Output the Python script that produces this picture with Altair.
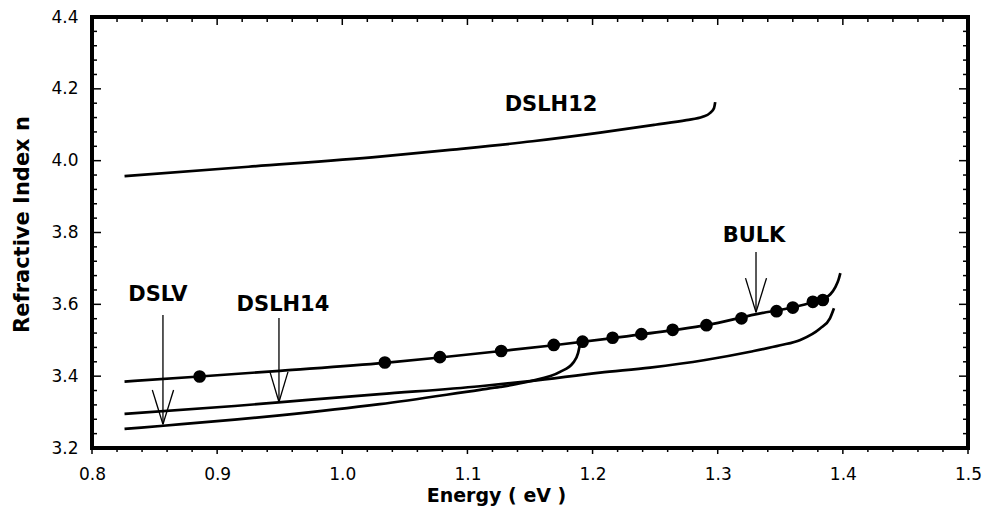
import altair as alt
import pandas as pd

# ---- curves: photon energy (eV) vs refractive index n ----
dslh12_e = [0.826, 0.925, 1.030, 1.086, 1.152, 1.206, 1.250, 1.275, 1.288, 1.294, 1.297, 1.298]
dslh12_n = [3.957, 3.983, 4.011, 4.030, 4.054, 4.078, 4.100, 4.113, 4.122, 4.133, 4.146, 4.163]

bulk_e = [0.826, 0.886, 0.950, 1.034, 1.078, 1.127, 1.169, 1.216, 1.264, 1.291, 1.330, 1.360, 1.376, 1.385, 1.390, 1.394, 1.3965, 1.398]
bulk_n = [3.385, 3.399, 3.415, 3.437, 3.452, 3.470, 3.486, 3.506, 3.528, 3.542, 3.572, 3.592, 3.606, 3.616, 3.628, 3.648, 3.668, 3.687]

dslh14_e = [0.826, 0.914, 0.949, 1.030, 1.110, 1.150, 1.206, 1.246, 1.290, 1.326, 1.350, 1.366, 1.3818, 1.3897, 1.3929]
dslh14_n = [3.295, 3.317, 3.327, 3.350, 3.372, 3.386, 3.410, 3.424, 3.445, 3.468, 3.486, 3.501, 3.533, 3.561, 3.589]

dslv_e = [0.826, 0.857, 0.914, 0.950, 1.030, 1.110, 1.126, 1.150, 1.174, 1.1844, 1.1884, 1.190]
dslv_n = [3.253, 3.262, 3.279, 3.291, 3.322, 3.362, 3.370, 3.386, 3.412, 3.437, 3.464, 3.490]

# measured bulk points (filled circles)
dots_e = [0.886, 1.034, 1.078, 1.127, 1.169, 1.192, 1.216, 1.239, 1.264, 1.291, 1.319, 1.347, 1.360, 1.376, 1.384]
dots_n = [3.399, 3.438, 3.453, 3.470, 3.487, 3.496, 3.507, 3.517, 3.529, 3.542, 3.561, 3.581, 3.591, 3.607, 3.612]

# ---- annotations ----
label_text = ["DSLH12", "DSLV", "DSLH14", "BULK"]
label_e = [1.1668, 0.8527, 0.9526, 1.329]
label_n = [4.155, 3.626, 3.598, 3.790]

arrow_e = [0.8567, 0.9494, 1.3306]      # where each arrow points
arrow_tip = [3.266, 3.328, 3.578]
arrow_top = [3.570, 3.562, 3.746]
arrow_head = [3.3615, 3.412, 3.673]
arrow_dx = [0.0085, 0.0072, 0.0084]

# ---- axis ticks ----
x_major = [0.8, 0.9, 1.0, 1.1, 1.2, 1.3, 1.4, 1.5]
x_minor = [round(0.8 + 0.02 * i, 2) for i in range(36) if i % 5 != 0]
y_major = [3.2, 3.4, 3.6, 3.8, 4.0, 4.2, 4.4]
y_minor = [round(3.2 + 0.04 * i, 2) for i in range(31) if i % 5 != 0]

W, H = 876, 431
FONT = "DejaVu Sans"

curves = pd.concat([
    pd.DataFrame({"E": dslh12_e, "n": dslh12_n, "curve": "DSLH12"}),
    pd.DataFrame({"E": bulk_e, "n": bulk_n, "curve": "BULK"}),
    pd.DataFrame({"E": dslh14_e, "n": dslh14_n, "curve": "DSLH14"}),
    pd.DataFrame({"E": dslv_e, "n": dslv_n, "curve": "DSLV"}),
], ignore_index=True)
dots = pd.DataFrame({"E": dots_e, "n": dots_n})
labels = pd.DataFrame({"text": label_text, "E": label_e, "n": label_n})

segs = []
for e, tip, top, head, dx in zip(arrow_e, arrow_tip, arrow_top, arrow_head, arrow_dx):
    segs.append({"x1": e, "y1": top, "x2": e, "y2": tip})
    segs.append({"x1": e - dx, "y1": head, "x2": e, "y2": tip})
    segs.append({"x1": e + dx, "y1": head, "x2": e, "y2": tip})
arrows = pd.DataFrame(segs)

xs = alt.Scale(domain=[0.8, 1.5], nice=False, zero=False)
ys = alt.Scale(domain=[3.2, 4.4], nice=False, zero=False)

x_axis = alt.Axis(values=x_major, format=".1f", ticks=False, tickSize=0, domain=False, grid=False,
                  labelFont=FONT, labelFontSize=17, labelColor="black", labelPadding=18,
                  labelFlush=False,
                  title="Energy ( eV )", titleFont=FONT, titleFontSize=19, titleFontWeight="bold",
                  titleColor="black", titleX=404, titleY=53, titleBaseline="alphabetic",
                  titleAnchor="start", titleAlign="center")
y_axis = alt.Axis(values=y_major, format=".1f", ticks=False, tickSize=0, domain=False, grid=False,
                  labelFont=FONT, labelFontSize=17, labelColor="black", labelPadding=14,
                  title="Refractive Index n", titleFont=FONT, titleFontSize=21, titleFontWeight="bold",
                  titleColor="black", titleX=-64, titleY=207, titleAngle=-90,
                  titleBaseline="alphabetic", titleAlign="center", titleAnchor="start")

lines = alt.Chart(curves).mark_line(color="black", strokeWidth=2.7, interpolate="monotone").encode(
    x=alt.X("E:Q", scale=xs, axis=x_axis),
    y=alt.Y("n:Q", scale=ys, axis=y_axis),
    detail="curve:N",
)

points = alt.Chart(dots).mark_circle(color="black", size=160, opacity=1).encode(
    x=alt.X("E:Q", scale=xs), y=alt.Y("n:Q", scale=ys)
)

arrow_rules = alt.Chart(arrows).mark_rule(color="black", strokeWidth=1.3).encode(
    x=alt.X("x1:Q", scale=xs), y=alt.Y("y1:Q", scale=ys), x2="x2:Q", y2="y2:Q"
)

texts = alt.Chart(labels).mark_text(font=FONT, fontSize=21, fontWeight="bold", color="black",
                                    align="center", baseline="middle").encode(
    x=alt.X("E:Q", scale=xs), y=alt.Y("n:Q", scale=ys), text="text:N"
)

def xticks(vals, y0, y1):
    return alt.Chart(pd.DataFrame({"v": vals})).mark_rule(color="black", strokeWidth=1.5).encode(
        x=alt.X("v:Q", scale=xs), y=alt.value(y0), y2=alt.value(y1))

def yticks(vals, x0, x1):
    return alt.Chart(pd.DataFrame({"v": vals})).mark_rule(color="black", strokeWidth=1.5).encode(
        y=alt.Y("v:Q", scale=ys), x=alt.value(x0), x2=alt.value(x1))

tick_layers = [
    xticks(x_major, H, H + 6), xticks(x_minor, H, H + 4),      # bottom: outward
    xticks(x_major, 0, 8), xticks(x_minor, 0, 5),              # top: inward
    yticks(y_major, 0, 9), yticks(y_minor, 0, 5),              # left: inward
    yticks(y_major, W - 9, W), yticks(y_minor, W - 5, W),      # right: inward
]

# heavy plot frame
frame = alt.Chart(pd.DataFrame({"k": [0]})).mark_rect(
    fill=None, fillOpacity=0, stroke="black", strokeWidth=4
).encode(x=alt.value(0), x2=alt.value(W), y=alt.value(0), y2=alt.value(H))

chart = alt.layer(lines, *tick_layers, frame, arrow_rules, points, texts).properties(
    width=W, height=H,
    autosize=alt.AutoSizeParams(type="none"),
    padding={"left": 92, "top": 17, "right": 16, "bottom": 76},
).configure_view(stroke=None).configure(background="white")

chart.save("out.html", embed_options={"renderer": "svg", "actions": False})
